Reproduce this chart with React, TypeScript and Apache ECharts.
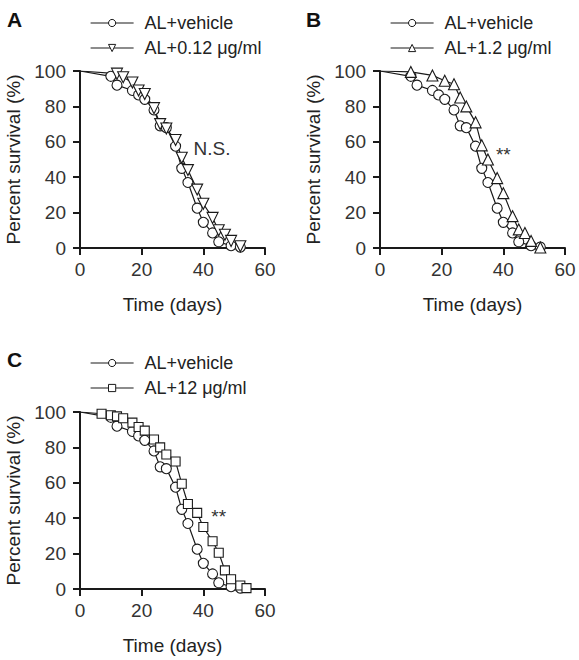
import React, { useEffect, useRef } from "react";
import * as echarts from "echarts";

const xTicks = [0, 20, 40, 60];
const yTicks = [0, 20, 40, 60, 80, 100];

const vehicleName = "AL+vehicle";
const vehicleDays = [10, 12, 17, 19, 21, 24, 26, 28, 31, 33, 35, 38, 40, 43, 45, 49, 52];
const vehiclePct = [97, 92, 89, 86.5, 84, 78, 69, 68, 57.5, 45, 37, 22.5, 14.5, 8.5, 3.5, 1.3, 0.5];

const lowName = "AL+0.12 μg/ml";
const lowDays = [12, 14, 17, 19, 21, 24, 26, 28, 31, 33, 35, 38, 40, 43, 45, 47, 49, 52];
const lowPct = [98.5, 96.5, 93.5, 89, 87, 79, 70, 67.5, 61, 51, 44, 33, 25, 17, 10, 7.5, 4, 1];

const midName = "AL+1.2 μg/ml";
const midDays = [10, 17, 21, 24, 26, 28, 31, 33, 35, 38, 40, 43, 45, 47, 49, 52];
const midPct = [99.5, 97.5, 94.5, 92.5, 85, 80, 71, 58, 50, 39.5, 31, 18, 10.5, 8.5, 4, 0.3];

const highName = "AL+12 μg/ml";
const highDays = [7, 10, 12, 14, 17, 19, 21, 24, 26, 28, 31, 33, 35, 38, 40, 43, 45, 47, 49, 52, 54];
const highPct = [99, 98.2, 97.5, 96.5, 94, 91.5, 89.5, 84.5, 80, 76, 72, 59.5, 48, 43, 35, 27, 20.5, 10.5, 5.5, 2, 0.5];

const panelLabels = ["A", "B", "C"];
const sigLabels = ["N.S.", "**", "**"];
const sigDays = [42.8, 40, 45];
const sigPct = [56, 53, 41];

const FONT = "'Liberation Sans', Arial, sans-serif";
const INK = "#1a1a1a";

function buildData(days: number[], pct: number[]) {
  const d: any[] = [{ value: [0, 100], symbol: "none" }];
  days.forEach((x, i) => d.push([x, pct[i]]));
  return d;
}

export default function App() {
  const ref = useRef<HTMLDivElement>(null);
  useEffect(() => {
    if (!ref.current) return;
    const chart = echarts.init(ref.current, undefined, { renderer: "svg" });

    const grids = [
      { left: 80, top: 71, width: 185, height: 177 },
      { left: 380, top: 71, width: 185, height: 177 },
      { left: 80, top: 412, width: 185, height: 177 },
    ];

    const xAxis = grids.map((_, i) => ({
      type: "value",
      gridIndex: i,
      min: 0,
      max: 60,
      interval: 20,
      name: "Time (days)",
      nameLocation: "middle",
      nameGap: 47,
      nameTextStyle: { fontSize: 19, color: "#222", fontFamily: FONT },
      axisLine: { show: true, lineStyle: { color: INK, width: 2 } },
      axisTick: { show: true, length: 7, lineStyle: { color: INK, width: 2 } },
      axisLabel: {
        fontSize: 19,
        color: "#333",
        fontFamily: FONT,
        margin: 12,
        formatter: (v: number) => (xTicks.includes(v) ? String(v) : ""),
      },
      splitLine: { show: false },
    }));

    const yAxis = grids.map((_, i) => ({
      type: "value",
      gridIndex: i,
      min: 0,
      max: 100,
      interval: 20,
      name: "Percent survival (%)",
      nameLocation: "middle",
      nameRotate: 90,
      nameGap: 57,
      nameTextStyle: { fontSize: 19, color: "#222", fontFamily: FONT },
      axisLine: { show: true, lineStyle: { color: INK, width: 2 } },
      axisTick: { show: true, length: 7, lineStyle: { color: INK, width: 2 } },
      axisLabel: {
        fontSize: 19,
        color: "#333",
        fontFamily: FONT,
        margin: 14,
        formatter: (v: number) => (yTicks.includes(v) ? String(v) : ""),
      },
      splitLine: { show: false },
    }));

    const mkSeries = (
      name: string,
      idx: number,
      days: number[],
      pct: number[],
      symbol: string,
      size: number,
      rotate: number,
      sig?: number
    ) => {
      const s: any = {
        type: "line",
        name,
        xAxisIndex: idx,
        yAxisIndex: idx,
        data: buildData(days, pct),
        symbol,
        symbolSize: size,
        symbolRotate: rotate,
        showAllSymbol: true,
        lineStyle: { color: INK, width: 1.2 },
        itemStyle: { color: "#fff", borderColor: INK, borderWidth: 1.1 },
        emphasis: { disabled: true },
        z: 3,
      };
      if (sig !== undefined) {
        s.markPoint = {
          symbol: "circle",
          symbolSize: 0,
          silent: true,
          data: [
            {
              coord: [sigDays[sig], sigPct[sig]],
              label: {
                show: true,
                position: "inside",
                formatter: sigLabels[sig],
                fontSize: 19,
                color: "#333",
                fontFamily: FONT,
              },
            },
          ],
        };
      }
      return s;
    };

    const series = [
      mkSeries(vehicleName, 0, vehicleDays, vehiclePct, "circle", 10, 0),
      mkSeries(lowName, 0, lowDays, lowPct, "triangle", 11, 180, 0),
      mkSeries(vehicleName, 1, vehicleDays, vehiclePct, "circle", 10, 0),
      mkSeries(midName, 1, midDays, midPct, "triangle", 11, 0, 1),
      mkSeries(vehicleName, 2, vehicleDays, vehiclePct, "circle", 10, 0),
      mkSeries(highName, 2, highDays, highPct, "rect", 9, 0, 2),
    ];

    const legendItem = (name: string) => ({
      name,
      itemStyle: { color: "#fff", borderColor: INK, borderWidth: 1 },
      lineStyle: { color: INK, width: 1.2 },
    });

    const legendPos = [
      { left: 90, top: 14, names: [vehicleName, lowName] },
      { left: 390, top: 14, names: [vehicleName, midName] },
      { left: 90, top: 354, names: [vehicleName, highName] },
    ];

    const legend = legendPos.map((p) => ({
      left: p.left,
      top: p.top,
      padding: 0,
      orient: "vertical",
      itemWidth: 43,
      itemHeight: 9,
      itemGap: 7,
      selectedMode: false,
      data: p.names.map(legendItem),
      textStyle: {
        fontSize: 18,
        color: "#222",
        fontFamily: FONT,
        padding: [0, 0, 0, 6],
      },
    }));

    const labelPos = [
      { left: 7, top: 9 },
      { left: 306, top: 9 },
      { left: 7, top: 349 },
    ];

    const graphic = panelLabels.map((t, i) => ({
      type: "text",
      left: labelPos[i].left,
      top: labelPos[i].top,
      style: {
        text: t,
        fontSize: 21,
        fontWeight: "bold",
        fill: "#111",
        fontFamily: FONT,
      },
    }));

    chart.setOption({
      animation: false,
      backgroundColor: "#fff",
      grid: grids,
      xAxis,
      yAxis,
      legend,
      graphic,
      series,
    });

    return () => chart.dispose();
  }, []);

  return (
    <div
      ref={ref}
      style={{ position: "fixed", left: 0, top: 0, width: 579, height: 660, background: "#fff" }}
    />
  );
}
